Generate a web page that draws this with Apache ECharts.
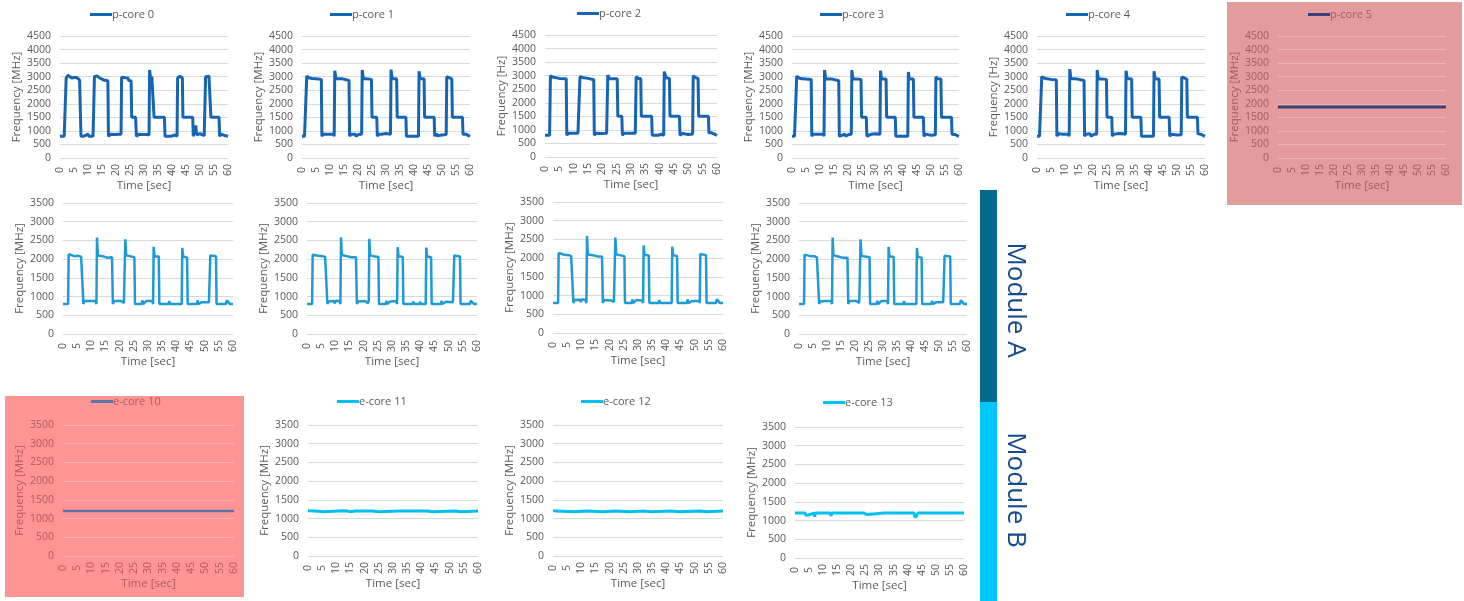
<!DOCTYPE html>
<html>
<head>
<meta charset="utf-8">
<script src="https://cdn.jsdelivr.net/npm/echarts@6/dist/echarts.min.js"></script>
<style>
  html, body { margin: 0; padding: 0; background: #ffffff; }
  #chart { width: 1464px; height: 601px; }
</style>
</head>
<body>
<div id="chart"></div>
<script>
// Core frequency traces: [time in sec, frequency]
const pcore0 = [[0,800],[1.5,800],[1.8,820],[2.0,800],[2.2,2950],[2.8,3050],[3.5,2980],[4.2,2950],[4.8,3000],[5.8,2980],[6.3,2920],[7.0,2880],[7.3,2870],[7.5,800],[8.3,800],[8.5,870],[10.0,880],[10.3,800],[11.8,800],[12.1,800],[12.3,3000],[13.2,3030],[14.2,2950],[15.5,2880],[17.1,2850],[17.3,800],[18.0,800],[18.2,880],[19.8,870],[20.0,800],[21.0,880],[21.8,880],[22.0,2980],[23.5,2960],[24.3,2950],[24.5,2860],[25.4,2850],[25.6,1500],[27.0,1500],[27.3,800],[28.0,800],[28.2,880],[29.5,870],[29.8,800],[31.0,870],[31.8,850],[32.0,3250],[32.4,2900],[32.8,3000],[33.4,2950],[33.6,1500],[37.3,1500],[37.5,800],[39.5,800],[39.7,860],[41.0,850],[41.8,800],[42.0,2950],[42.8,3020],[43.7,2950],[43.9,1500],[47.4,1500],[47.6,800],[48.3,820],[48.5,1200],[48.8,850],[50.0,900],[51.5,820],[51.8,800],[52.0,3000],[52.6,2950],[53.2,3020],[53.7,2980],[53.9,1500],[56.8,1500],[57.0,800],[57.6,880],[58.5,840],[59.2,800],[60,800]];
const pcore1 = [[0,800],[0.4,860],[0.9,800],[1.5,800],[1.7,3020],[2.5,2960],[3.5,2930],[5.0,2920],[6.9,2900],[7.1,800],[7.6,880],[9.5,880],[9.8,830],[10.0,900],[11.3,880],[11.5,800],[11.7,3220],[12.1,2930],[14.5,2920],[15.0,2880],[16.8,2860],[17.0,800],[17.5,880],[19.0,880],[19.3,800],[20.4,880],[21.3,880],[21.5,3250],[21.9,2930],[24.8,2900],[25.0,1500],[26.7,1500],[26.9,800],[27.4,880],[28.5,880],[28.8,830],[30.0,900],[31.6,880],[31.8,3260],[32.2,2930],[33.8,2920],[34.0,1500],[37.1,1500],[37.3,800],[39.5,800],[39.8,850],[40.3,800],[41.6,800],[41.8,3200],[42.2,2930],[43.6,2920],[43.8,1500],[47.2,1500],[47.4,800],[48.0,900],[48.3,820],[50.0,850],[51.5,870],[51.7,3000],[52.3,2930],[53.5,2920],[53.7,1500],[57.3,1500],[57.5,880],[58.5,880],[58.8,820],[60,800]];
const pcore2 = [[0,800],[1.6,800],[1.9,3000],[2.6,2950],[3.5,2930],[5.0,2900],[7.4,2890],[7.6,800],[8.2,880],[10.0,880],[10.4,830],[11.5,880],[12.0,880],[12.2,2960],[13.5,2920],[15.0,2900],[15.3,2860],[17.0,2850],[17.2,800],[17.8,880],[20.0,870],[20.3,800],[21.5,880],[21.7,880],[21.9,3020],[22.4,2900],[25.2,2890],[25.4,1500],[26.8,1500],[27.0,800],[27.6,880],[29.5,880],[29.8,830],[31.5,880],[31.8,2960],[32.5,2900],[33.4,2900],[33.6,1500],[37.2,1500],[37.4,800],[39.5,800],[39.8,860],[40.5,840],[41.4,800],[41.6,3150],[42.2,2920],[43.4,2900],[43.6,1500],[46.9,1500],[47.1,800],[48.0,870],[50.0,830],[51.5,850],[51.7,3000],[52.4,2930],[53.4,2900],[53.6,1500],[57.0,1500],[57.2,880],[58.0,900],[58.5,830],[60,800]];
const pcore3 = [[0,800],[0.4,870],[0.9,800],[1.5,800],[1.7,3020],[2.5,2950],[3.5,2920],[5.0,2910],[6.9,2900],[7.1,800],[7.6,880],[9.5,880],[9.8,830],[10.1,890],[11.3,880],[11.5,800],[11.7,3250],[12.1,2920],[14.5,2910],[15.0,2870],[16.8,2850],[17.0,800],[17.5,870],[19.0,880],[19.3,800],[20.4,870],[21.3,880],[21.5,3250],[21.9,2920],[24.8,2900],[25.0,1500],[26.7,1500],[26.9,800],[27.4,870],[28.5,880],[28.8,820],[30.0,890],[31.6,880],[31.8,3220],[32.2,2920],[33.8,2910],[34.0,1500],[37.1,1500],[37.3,800],[39.5,800],[39.8,860],[40.3,800],[41.6,800],[41.8,3170],[42.2,2920],[43.6,2910],[43.8,1500],[47.2,1500],[47.4,800],[48.0,880],[48.3,820],[50.0,840],[51.5,860],[51.7,3000],[52.3,2920],[53.5,2910],[53.7,1500],[57.3,1500],[57.5,880],[58.5,870],[58.8,810],[60,800]];
const pcore4 = [[0,800],[0.4,860],[0.9,800],[1.5,800],[1.7,3000],[2.5,2950],[3.5,2920],[5.0,2900],[6.9,2890],[7.1,800],[7.6,890],[9.5,880],[9.8,830],[10.0,900],[11.3,880],[11.5,800],[11.7,3280],[12.1,2930],[14.5,2910],[15.0,2880],[16.8,2860],[17.0,800],[17.5,880],[19.0,890],[19.3,800],[20.4,880],[21.3,880],[21.5,3250],[21.9,2920],[24.8,2900],[25.0,1500],[26.7,1500],[26.9,800],[27.4,880],[28.5,890],[28.8,830],[30.0,900],[31.6,880],[31.8,3220],[32.2,2930],[33.8,2910],[34.0,1500],[37.1,1500],[37.3,800],[39.5,800],[39.8,870],[40.3,800],[41.6,800],[41.8,3200],[42.2,2920],[43.6,2910],[43.8,1500],[47.2,1500],[47.4,800],[48.0,880],[48.3,820],[50.0,850],[51.5,860],[51.7,2990],[52.3,2930],[53.5,2910],[53.7,1500],[57.3,1500],[57.5,890],[58.5,880],[58.8,820],[60,800]];
const pcore5 = [[0,1880],[3.5,1880],[3.7,1920],[4.0,1880],[5.0,1880],[5.2,1850],[5.4,1880],[17.3,1880],[17.5,1850],[17.7,1880],[22.8,1880],[23.0,1920],[23.2,1880],[43.0,1880],[43.2,1920],[43.4,1880],[46.5,1880],[46.7,1920],[46.9,1880],[53.0,1880],[53.2,1920],[53.4,1880],[60,1880]];

const moduleA0 = [[0,800],[0.5,830],[0.8,800],[1.8,800],[2.0,2130],[2.6,2100],[4.0,2080],[5.5,2090],[6.4,2060],[7.0,2030],[7.2,800],[7.6,880],[9.5,880],[9.8,830],[10.2,900],[11.5,880],[11.8,800],[12.0,2580],[12.3,2100],[14.0,2080],[15.5,2040],[17.3,2050],[17.6,800],[18.0,880],[20.5,880],[21.5,830],[21.8,880],[22.0,2530],[22.3,2100],[23.5,2080],[25.2,2050],[25.4,800],[27.8,800],[28.0,900],[28.3,800],[29.4,880],[31.5,880],[31.8,800],[32.0,2330],[32.3,2080],[33.8,2070],[34.0,800],[37.3,800],[37.5,880],[37.8,800],[39.7,800],[39.9,850],[40.2,800],[41.9,800],[42.1,2300],[42.4,2070],[43.8,2040],[44.0,800],[47.3,800],[47.5,900],[47.8,800],[49.0,850],[51.5,850],[51.8,800],[52.0,2100],[54.0,2080],[54.2,800],[57.5,800],[57.8,900],[58.5,850],[59.0,800],[60,800]];
const moduleA1 = [[0,800],[0.5,840],[0.8,800],[1.8,800],[2.0,2120],[2.6,2100],[4.0,2090],[5.5,2080],[6.4,2060],[7.0,2040],[7.2,800],[7.6,870],[9.5,880],[9.8,820],[10.2,890],[11.5,880],[11.8,800],[12.0,2580],[12.3,2110],[14.0,2080],[15.5,2050],[17.3,2050],[17.6,800],[18.0,870],[20.5,880],[21.5,820],[21.8,880],[22.0,2540],[22.3,2100],[23.5,2080],[25.2,2060],[25.4,800],[27.8,800],[28.0,890],[28.3,800],[29.4,870],[31.5,880],[31.8,800],[32.0,2320],[32.3,2080],[33.8,2060],[34.0,800],[37.3,800],[37.5,870],[37.8,800],[39.7,800],[39.9,860],[40.2,800],[41.9,800],[42.1,2310],[42.4,2070],[43.8,2050],[44.0,800],[47.3,800],[47.5,890],[47.8,800],[49.0,860],[51.5,850],[51.8,800],[52.0,2100],[54.0,2070],[54.2,800],[57.5,800],[57.8,890],[58.5,850],[59.0,800],[60,800]];
const moduleA2 = [[0,800],[0.5,830],[0.8,800],[1.8,800],[2.0,2140],[2.6,2110],[4.0,2090],[5.5,2080],[6.4,2060],[7.0,2040],[7.2,800],[7.6,880],[9.5,890],[9.8,830],[10.2,900],[11.5,880],[11.8,800],[12.0,2590],[12.3,2100],[14.0,2080],[15.5,2050],[17.3,2040],[17.6,800],[18.0,880],[20.5,870],[21.5,830],[21.8,880],[22.0,2550],[22.3,2100],[23.5,2080],[25.2,2050],[25.4,800],[27.8,800],[28.0,900],[28.3,800],[29.4,880],[31.5,870],[31.8,800],[32.0,2340],[32.3,2090],[33.8,2070],[34.0,800],[37.3,800],[37.5,880],[37.8,800],[39.7,800],[39.9,850],[40.2,800],[41.9,800],[42.1,2310],[42.4,2080],[43.8,2050],[44.0,800],[47.3,800],[47.5,900],[47.8,800],[49.0,850],[51.5,860],[51.8,800],[52.0,2110],[54.0,2080],[54.2,800],[57.5,800],[57.8,900],[58.5,860],[59.0,800],[60,800]];
const moduleA3 = [[0,800],[0.5,830],[0.8,800],[1.8,800],[2.0,2120],[2.6,2100],[4.0,2080],[5.5,2080],[6.4,2050],[7.0,2030],[7.2,800],[7.6,870],[9.5,880],[9.8,830],[10.2,890],[11.5,880],[11.8,800],[12.0,2580],[12.3,2100],[14.0,2070],[15.5,2040],[17.3,2040],[17.6,800],[18.0,880],[20.5,880],[21.5,830],[21.8,870],[22.0,2530],[22.3,2090],[23.5,2070],[25.2,2050],[25.4,800],[27.8,800],[28.0,890],[28.3,800],[29.4,880],[31.5,880],[31.8,800],[32.0,2330],[32.3,2080],[33.8,2060],[34.0,800],[37.3,800],[37.5,880],[37.8,800],[39.7,800],[39.9,850],[40.2,800],[41.9,800],[42.1,2300],[42.4,2060],[43.8,2040],[44.0,800],[47.3,800],[47.5,890],[47.8,800],[49.0,850],[51.5,850],[51.8,800],[52.0,2090],[54.0,2070],[54.2,800],[57.5,800],[57.8,900],[58.5,850],[59.0,800],[60,800]];

const ecore10 = [[0,1200],[4.5,1200],[5.0,1170],[5.5,1200],[60,1200]];
const ecore11 = [[0,1210],[2.5,1200],[3.0,1175],[5.5,1180],[6.0,1205],[12.5,1210],[13.0,1180],[14.0,1200],[15.0,1180],[16.5,1200],[22.5,1205],[23.0,1175],[25.0,1180],[25.5,1205],[32.0,1200],[32.5,1175],[33.5,1200],[42.0,1200],[42.5,1175],[44.0,1180],[44.5,1200],[52.0,1205],[52.5,1175],[54.0,1180],[54.5,1200],[60,1205]];
const ecore12 = [[0,1210],[1.5,1205],[2.0,1180],[7.5,1180],[8.0,1210],[12.0,1205],[12.5,1180],[17.5,1180],[18.0,1205],[22.0,1200],[22.5,1180],[27.0,1180],[27.5,1210],[32.0,1200],[32.5,1180],[34.5,1180],[35.0,1205],[42.0,1200],[42.5,1175],[44.5,1180],[45.0,1205],[52.0,1200],[52.5,1175],[54.0,1180],[54.5,1205],[60,1205]];
const ecore13 = [[0,1200],[2.5,1200],[3.0,1160],[3.5,1200],[4.0,1140],[4.8,1150],[5.2,1200],[6.8,1200],[7.0,1100],[7.2,1200],[12.5,1200],[12.8,1130],[13.1,1200],[15.0,1200],[15.3,1170],[15.6,1200],[17.0,1200],[17.2,1150],[17.5,1200],[24.5,1200],[24.8,1150],[25.5,1160],[25.8,1200],[32.0,1200],[32.3,1160],[33.0,1200],[42.3,1200],[42.6,1080],[43.2,1140],[43.6,1200],[53.8,1200],[54.1,1150],[54.5,1200],[60,1200]];

const seriesNames = ['p-core 0','p-core 1','p-core 2','p-core 3','p-core 4','p-core 5',
                     'core A1','core A2','core A3','core A4',
                     'e-core 10','e-core 11','e-core 12','e-core 13'];
const seriesData = [pcore0, pcore1, pcore2, pcore3, pcore4, pcore5,
                    moduleA0, moduleA1, moduleA2, moduleA3,
                    ecore10, ecore11, ecore12, ecore13];
const yAxisTitles = ['Frequency [MHz]','Frequency [MHz]','Frequency [Hz]','Frequency [MHz]','Frequency [Hz]','Frequency [MHz]',
                     'Frequency [MHz]','Frequency [MHz]','Frequency [MHz]','Frequency [MHz]',
                     'Frequency [MHz]','Frequency [MHz]','Frequency [MHz]','Frequency [MHz]'];
const yMaxima = [4500,4500,4500,4500,4500,4500, 3500,3500,3500,3500, 3500,3500,3500,3500];
const xTitle = 'Time [sec]';
const moduleLabels = ['Module A','Module B'];

// Panel geometry (plot box, legend anchor) and styling
const PCORE = '#1565b2', MODA = '#1e9ad5', ECORE = '#00bff2';
const panels = [
  {left:60,   top:36,  width:168, height:122, legend:[90,15],   color:PCORE, lw:3},
  {left:302,  top:36,  width:168, height:122, legend:[330,15],  color:PCORE, lw:3},
  {left:545,  top:35,  width:172, height:122, legend:[577,14],  color:PCORE, lw:3},
  {left:792,  top:36,  width:167, height:122, legend:[820,15],  color:PCORE, lw:3},
  {left:1037, top:36,  width:168, height:122, legend:[1066,15], color:PCORE, lw:3},
  {left:1278, top:36,  width:168, height:122, legend:[1308,15], color:'#3b3e78', lw:3, warn:'p'},
  {left:63,   top:203, width:170, height:131, legend:null, color:MODA, lw:2.5},
  {left:307,  top:203, width:170, height:131, legend:null, color:MODA, lw:2.5},
  {left:553,  top:202, width:170, height:131, legend:null, color:MODA, lw:2.5},
  {left:799,  top:203, width:168, height:131, legend:null, color:MODA, lw:2.5},
  {left:63,   top:425, width:171, height:131, legend:[91,402],  color:'#5a73a8', lw:2.5, warn:'e'},
  {left:308,  top:425, width:170, height:131, legend:[337,402], color:ECORE, lw:3},
  {left:553,  top:425, width:170, height:131, legend:[581,402], color:ECORE, lw:3},
  {left:795,  top:427, width:169, height:131, legend:[823,403], color:ECORE, lw:3}
];

const FONT = 'Open Sans';
const TEXT = '#595959', GRID = '#d9d9d9';
const WARN = {
  p: {bg:'#e49b9b', text:'#a35b5b', grid:'#eeb3b3'},
  e: {bg:'#ff9494', text:'#b05a5a', grid:'#ffb0b0'}
};

const grids = [], xAxes = [], yAxes = [], series = [], legends = [];
panels.forEach((p, i) => {
  const w = p.warn ? WARN[p.warn] : null;
  const tc = w ? w.text : TEXT;
  const gc = w ? w.grid : GRID;
  grids.push({left:p.left, top:p.top, width:p.width, height:p.height, outerBoundsMode:'none'});
  xAxes.push({
    type:'value', gridIndex:i, min:0, max:60, interval:5,
    axisLine:{show:false}, axisTick:{show:false}, splitLine:{show:false},
    axisLabel:{rotate:90, align:'center', margin:12, fontSize:10.5, color:tc, fontFamily:FONT,
               formatter:v => String(v)},
    name:xTitle, nameLocation:'middle', nameGap:21,
    nameTextStyle:{fontSize:11.5, color:tc, fontFamily:FONT}
  });
  yAxes.push({
    type:'value', gridIndex:i, min:0, max:yMaxima[i], interval:500,
    axisLine:{show:false}, axisTick:{show:false},
    splitLine:{show:true, lineStyle:{color:gc, width:1}},
    axisLabel:{margin:9, fontSize:10.5, color:tc, fontFamily:FONT, formatter:v => String(v)},
    name:yAxisTitles[i], nameLocation:'middle', nameGap:34,
    nameTextStyle:{fontSize:11.5, color:tc, fontFamily:FONT}
  });
  series.push({
    type:'line', name:seriesNames[i], xAxisIndex:i, yAxisIndex:i,
    data:seriesData[i], showSymbol:false, symbol:'none',
    lineStyle:{color:p.color, width:p.lw},
    itemStyle:{color:p.color}, animation:false
  });
  if (p.legend) {
    legends.push({
      data:[seriesNames[i]], left:p.legend[0], top:p.legend[1] - 6,
      icon:'rect', itemWidth:22, itemHeight:3, itemGap:0,
      textStyle:{fontSize:11, color:tc, fontFamily:FONT, padding:[0,0,0,-5]},
      selectedMode:false, padding:0
    });
  }
});

const graphics = [
  {type:'rect', z:-10, shape:{x:1227, y:2, width:235, height:203}, style:{fill:WARN.p.bg}},
  {type:'rect', z:-10, shape:{x:5, y:396, width:239, height:201}, style:{fill:WARN.e.bg}},
  {type:'rect', z:-10, shape:{x:980, y:190, width:17, height:212}, style:{fill:'#006b8f'}},
  {type:'rect', z:-10, shape:{x:980, y:402, width:17, height:199}, style:{fill:'#00c6ff'}},
  {type:'text', x:1015, y:300, rotation:-Math.PI/2,
   style:{text:moduleLabels[0], font:'26px "Open Sans"', fill:'#164a8a',
          textAlign:'center', textVerticalAlign:'middle', align:'center', verticalAlign:'middle'}},
  {type:'text', x:1015, y:490, rotation:-Math.PI/2,
   style:{text:moduleLabels[1], font:'26px "Open Sans"', fill:'#164a8a',
          textAlign:'center', textVerticalAlign:'middle', align:'center', verticalAlign:'middle'}}
];

const chart = echarts.init(document.getElementById('chart'), null, {renderer:'canvas'});
chart.setOption({
  animation:false,
  backgroundColor:'#ffffff',
  textStyle:{fontFamily:FONT},
  grid:grids, xAxis:xAxes, yAxis:yAxes, series:series, legend:legends,
  graphic:graphics
});
</script>
</body>
</html>
